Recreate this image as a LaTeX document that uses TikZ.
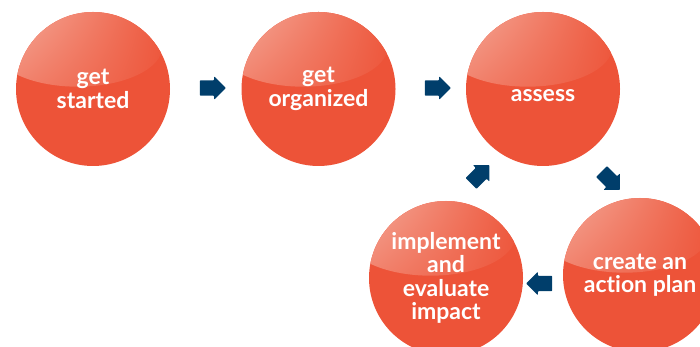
\documentclass[tikz,border=0pt]{standalone}
\usepackage{fontspec}
\newfontfamily\latofont{Lato}[Ligatures=NoCommon]
\usetikzlibrary{calc,positioning,shapes.arrows,shadings}
\definecolor{oranye}{RGB}{237,83,56}
\definecolor{biru}{RGB}{0,62,107}
\definecolor{kilapa}{RGB}{246,182,167}
\definecolor{kilapb}{RGB}{237,85,58}
\definecolor{kilapc}{RGB}{238,91,65}
\newcommand{\kilap}[1][77pt]
	{
	\shade[rotate=18, upper left=kilapa, upper right=kilapb, lower left=kilapc, lower right=oranye]
		($(path picture bounding box.center)+(-0.2*#1,0.55*#1)$) ellipse ({1.1*#1} and {0.52*#1});
	}
\tikzset{
	bola/.style={circle, minimum size=154pt, inner sep=0pt, fill=oranye, text=white,
		font=\latofont\bfseries\fontsize{23}{23.5}\selectfont, align=center,
		path picture={\kilap}},
	panah/.style={single arrow, fill=biru, minimum height=26pt, inner xsep=0pt,
		inner ysep=7.5pt, single arrow head extend=4pt, rounded corners=0.8pt}
}
\begin{document}
\begin{tikzpicture}[x=1pt,y=1pt]
\useasboundingbox (0,0) rectangle (700,347);

% bola-bola langkah
\node[bola] (start) at (93,258) {get\\started};
\node[bola] (organize) at (318.5,258) {get\\organized};
\node[bola, text height=26pt] (assess) at (543,258) {assess};
\node[bola] (plan) at (640,72) {create an\\action plan};
\node[bola] (impact) at (446,69) {implement\\and\\evaluate\\impact};

% panah-panah
\node[panah] (p1) at (209,259) {};
\node[panah] (p2) at (434,259) {};
\node[panah, rotate=-45] (p3) at (608,169) {};
\node[panah, rotate=180] (p4) at (543,63.5) {};
\node[panah, rotate=45] (p5) at (477.5,170) {};

\end{tikzpicture}
\end{document}
